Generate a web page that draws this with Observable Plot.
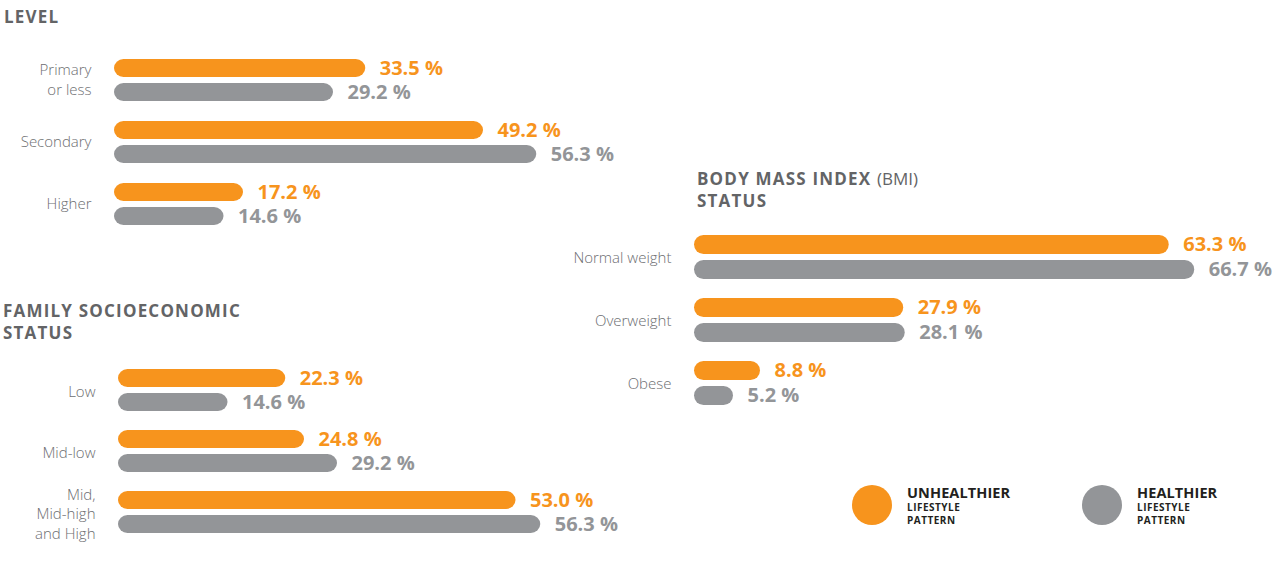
<!DOCTYPE html>
<html>
<head>
<meta charset="utf-8">
<script src="https://cdn.jsdelivr.net/npm/d3@7"></script>
<script src="https://cdn.jsdelivr.net/npm/@observablehq/plot@0.6"></script>
<style>
  html, body { margin: 0; padding: 0; background: #fff; }
  #root { position: relative; width: 1283px; height: 586px; overflow: hidden; background: #fff; font-family: "Open Sans", sans-serif; }
  .panel { position: absolute; }
  .title { position: absolute; font-family: "Open Sans", sans-serif; font-weight: 700; font-size: 17px; letter-spacing: 1.2px; color: #636466; line-height: 22px; white-space: nowrap; }
  .title .light { font-weight: 400; letter-spacing: 0; }
  .leg { position: absolute; }
  .leg .dot { position: absolute; width: 40px; height: 40px; border-radius: 50%; }
  .leg .big { position: absolute; font-weight: 700; font-size: 14.5px; line-height: 20px; color: #231f20; letter-spacing: 0.1px; white-space: nowrap; }
  .leg .small { position: absolute; font-weight: 700; font-size: 10px; color: #231f20; line-height: 13px; letter-spacing: 0.5px; white-space: nowrap; }
</style>
</head>
<body>
<div id="root"></div>
<script>
// ---- data ----
const seriesNames = ["Unhealthier", "Healthier"];
const seriesColors = ["#F7941D", "#939598"];

const eduCats = ["Primary\nor less", "Secondary", "Higher"];
const eduUnhealthier = [33.5, 49.2, 17.2];
const eduHealthier = [29.2, 56.3, 14.6];

const sesCats = ["Low", "Mid-low", "Mid,\nMid-high\nand High"];
const sesUnhealthier = [22.3, 24.8, 53.0];
const sesHealthier = [14.6, 29.2, 56.3];

const bmiCats = ["Normal weight", "Overweight", "Obese"];
const bmiUnhealthier = [63.3, 27.9, 8.8];
const bmiHealthier = [66.7, 28.1, 5.2];

// ---- drawing ----
const root = document.getElementById("root");

function panel(cats, u, h, {left, top, ml, width, step, labelDy}) {
  const data = cats.flatMap((c, i) => [
    {cat: c, s: seriesNames[0], v: u[i]},
    {cat: c, s: seriesNames[1], v: h[i]}
  ]);
  const mt = 10, mb = 10;
  const height = Math.round(mt + mb + step * 2.9);
  const chart = Plot.plot({
    width, height,
    marginLeft: ml, marginRight: 0, marginTop: mt, marginBottom: mb,
    x: {domain: [0, 100], range: [ml, ml + 750], axis: null},
    y: {domain: seriesNames, padding: 0.24, axis: null},
    fy: {domain: cats, paddingInner: 0.1, paddingOuter: 0, axis: null},
    color: {domain: seriesNames, range: seriesColors},
    facet: {data, y: "cat"},
    style: {background: "transparent", overflow: "visible", maxWidth: "none"},
    marks: [
      Plot.barX(data, {x: "v", y: "s", fill: "s", rx: 9.5}),
      Plot.text(data, {
        x: "v", y: "s", fill: "s",
        text: d => d.v.toFixed(1) + " %",
        dx: 14, textAnchor: "start",
        fontFamily: "Open Sans", fontWeight: 700, fontSize: 20,
        style: "letter-spacing:-0.9px"
      }),
      Plot.text(data, {
        filter: d => d.s === seriesNames[0],
        text: "cat", frameAnchor: "left", textAnchor: "end", dx: -23, dy: labelDy,
        lineHeight: 1.3,
        fill: "#6d6e71", fontFamily: "Open Sans", fontWeight: 300, fontSize: 15,
        style: "letter-spacing:-0.3px"
      })
    ]
  });
  const div = document.createElement("div");
  div.className = "panel";
  div.style.left = left + "px";
  div.style.top = top + "px";
  div.appendChild(chart);
  root.appendChild(div);
}

function title(html, left, top) {
  const d = document.createElement("div");
  d.className = "title";
  d.style.left = left + "px";
  d.style.top = top + "px";
  d.innerHTML = html;
  root.appendChild(d);
}

panel(eduCats, eduUnhealthier, eduHealthier, {left: 0, top: 42, ml: 114, width: 640, step: 62, labelDy: -2});
panel(sesCats, sesUnhealthier, sesHealthier, {left: 0, top: 353, ml: 118, width: 640, step: 61, labelDy: 0});
panel(bmiCats, bmiUnhealthier, bmiHealthier, {left: 560, top: 218, ml: 134, width: 723, step: 63, labelDy: 0});

title("LEVEL", 4, 6);
title("FAMILY SOCIOECONOMIC<br>STATUS", 3, 300);
title('BODY MASS INDEX <span class="light">(BMI)</span><br>STATUS', 697, 168);

// legend
function legendItem(left, color, big) {
  const g = document.createElement("div");
  g.className = "leg";
  g.style.left = left + "px";
  g.style.top = "485px";
  g.innerHTML = `<div class="dot" style="left:0;top:0;background:${color}"></div>
    <div class="big" style="left:55px;top:-2px">${big}</div>
    <div class="small" style="left:55px;top:16px">LIFESTYLE<br>PATTERN</div>`;
  root.appendChild(g);
}
legendItem(852, seriesColors[0], "UNHEALTHIER");
legendItem(1082, seriesColors[1], "HEALTHIER");
</script>
</body>
</html>
